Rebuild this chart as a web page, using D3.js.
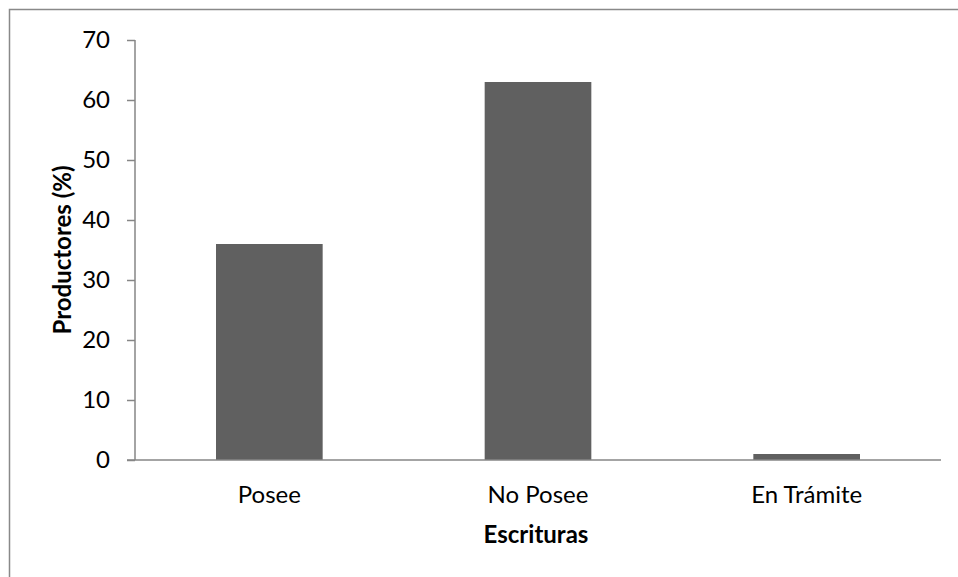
<!DOCTYPE html>
<html><head><meta charset="utf-8">
<script src="https://cdn.jsdelivr.net/npm/d3@7"></script>
<style>body{margin:0;background:#fff;} svg{display:block;} text{font-family:Lato,"Open Sans",sans-serif;fill:#000;}</style>
</head><body>
<svg id="c" width="958" height="577"></svg>
<script>
const categories = ["Posee", "No Posee", "En Trámite"];
const values = [36, 63, 1];
const yTicks = [0, 10, 20, 30, 40, 50, 60, 70];
const xTitle = "Escrituras";
const yTitle = "Productores (%)";

const svg = d3.select("#c");
svg.append("rect").attr("x",9.5).attr("y",9.5).attr("width",1000).attr("height",1000)
  .attr("fill","none").attr("stroke","#898989").attr("stroke-width",1.5);

const pL=135, pR=941, pT=40, pB=460;
const x = d3.scaleBand().domain(categories).range([pL,pR]).paddingInner(0.603).paddingOuter(0.3015);
const y = d3.scaleLinear().domain([0,70]).range([pB,pT]);

svg.selectAll("rect.bar").data(values).enter().append("rect").attr("class","bar")
  .attr("x",(d,i)=>x(categories[i])).attr("width",x.bandwidth())
  .attr("y",d=>y(d)).attr("height",d=>y(0)-y(d)).attr("fill","#606060");

const yAxis = svg.append("g").attr("transform",`translate(${pL},0)`)
  .call(d3.axisLeft(y).tickValues(yTicks).tickSize(8).tickPadding(17).tickFormat(d3.format("d")));
yAxis.select(".domain").attr("stroke","#868686").attr("stroke-width",1.5).attr("d",`M0,${pT}V${pB}`);
yAxis.selectAll(".tick line").attr("stroke","#868686").attr("stroke-width",1.5);
yAxis.selectAll(".tick text").attr("font-size",24).attr("font-family","Lato").attr("fill","#000");

const xAxis = svg.append("g").attr("transform",`translate(0,${pB})`)
  .call(d3.axisBottom(x).tickSize(0).tickPadding(26));
xAxis.select(".domain").attr("stroke","#868686").attr("stroke-width",1.5).attr("d",`M${pL-8},0H${pR}`);
xAxis.selectAll(".tick text").attr("font-size",24).attr("font-family","Lato").attr("fill","#000");

svg.append("text").attr("x",(pL+pR)/2 - 2).attr("y",543).attr("text-anchor","middle")
  .attr("font-size",24).attr("font-weight","bold").text(xTitle);
svg.append("text").attr("transform",`translate(71,${(pT+pB)/2}) rotate(-90)`).attr("text-anchor","middle")
  .attr("font-size",24).attr("font-weight","bold").text(yTitle);
</script>
</body></html>
